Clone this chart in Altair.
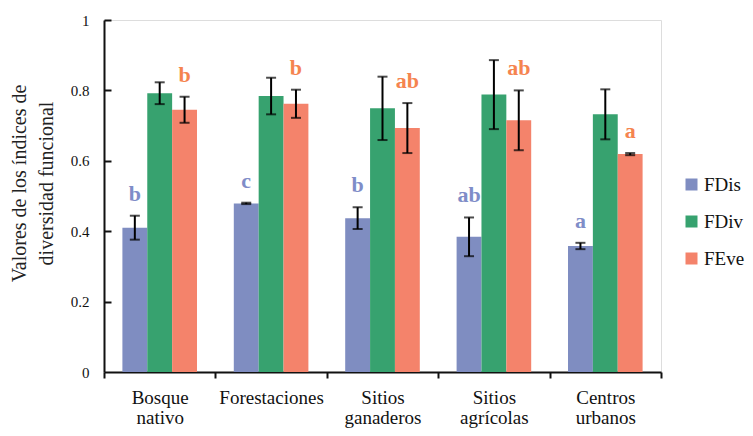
import altair as alt
import pandas as pd

categories = ["Bosque\nnativo", "Forestaciones", "Sitios\nganaderos", "Sitios\nagrícolas", "Centros\nurbanos"]
series = ["FDis", "FDiv", "FEve"]
fdis = [0.410, 0.479, 0.437, 0.384, 0.358]
fdis_err = [0.034, 0.002, 0.031, 0.055, 0.009]
fdiv = [0.792, 0.784, 0.749, 0.788, 0.732]
fdiv_err = [0.031, 0.052, 0.090, 0.098, 0.071]
feve = [0.745, 0.762, 0.693, 0.715, 0.619]
feve_err = [0.037, 0.040, 0.071, 0.085, 0.003]
fdis_letters = ["b", "c", "b", "ab", "a"]
feve_letters = ["b", "b", "ab", "ab", "a"]

bar_colors = ["#7F8DC1", "#37A26F", "#F4836B"]
letter_colors = {"FDis": "#7F8DC8", "FEve": "#F5844F"}
FONT = "Liberation Serif"

rows = []
for name, vals, errs in [("FDis", fdis, fdis_err), ("FDiv", fdiv, fdiv_err), ("FEve", feve, feve_err)]:
    for c, v, e in zip(categories, vals, errs):
        rows.append({"cat": c, "serie": name, "val": v, "lo": v - e, "hi": v + e})
df = pd.DataFrame(rows)

lrows = []
for name, letters, vals, errs in [("FDis", fdis_letters, fdis, fdis_err), ("FEve", feve_letters, feve, feve_err)]:
    for c, l, v, e in zip(categories, letters, vals, errs):
        lrows.append({"cat": c, "serie": name, "txt": l, "hi": v + e, "lcolor": letter_colors[name]})
ldf = pd.DataFrame(lrows)

xenc = alt.X("cat:N", sort=categories, title=None,
             scale=alt.Scale(paddingInner=0, paddingOuter=0),
             axis=alt.Axis(tickBand="extent", labelAngle=0, labelFont=FONT, labelFontSize=19,
                           labelColor="#111", labelExpr="split(datum.label, '\\n')",
                           labelLineHeight=20, labelBaseline="top", labelPadding=10,
                           tickSize=6, tickWidth=2, tickColor="#111", domainColor="#111",
                           domainWidth=2))
xoff = alt.XOffset("serie:N", sort=series, scale=alt.Scale(paddingInner=0, paddingOuter=0.74))
yscale = alt.Scale(domain=[0, 1])

bars = alt.Chart(df).mark_bar().encode(
    x=xenc,
    xOffset=xoff,
    y=alt.Y("val:Q", scale=yscale,
            axis=alt.Axis(values=[0, 0.2, 0.4, 0.6, 0.8, 1], format=".1~f",
                          title=["Valores de los índices de", "diversidad funcional"],
                          titleFont=FONT, titleFontSize=20, titleFontWeight="normal",
                          titleColor="#222", titleLineHeight=27, titleAngle=-90,
                          titleX=-85, titleY=163, titleAlign="center", titleBaseline="middle",
                          labelFont=FONT, labelFontSize=15, labelColor="#111", labelPadding=15,
                          ticks=False, grid=False, domainColor="#111", domainWidth=2)),
    color=alt.Color("serie:N", sort=series,
                    scale=alt.Scale(domain=series, range=bar_colors),
                    legend=alt.Legend(title=None, orient="none", legendX=578, legendY=155,
                                      symbolType="square", symbolSize=144, symbolStrokeWidth=0,
                                      labelFont=FONT, labelFontSize=19, labelColor="#111",
                                      rowPadding=17, labelOffset=3, padding=0)),
)

rules = alt.Chart(df).mark_rule(color="black", strokeWidth=2).encode(
    x=alt.X("cat:N", sort=categories), xOffset=xoff,
    y=alt.Y("lo:Q", scale=yscale,
            axis=alt.Axis(orient="right", offset=-557, labels=False, domain=False, grid=False,
                          title=None, values=[0.2, 0.4, 0.6, 0.8, 1], tickSize=7,
                          tickWidth=2, tickColor="#111")),
    y2="hi:Q",
)
tick_lo = alt.Chart(df).mark_tick(color="black", thickness=2, size=10, orient="horizontal").encode(
    x=alt.X("cat:N", sort=categories), xOffset=xoff,
    y=alt.Y("lo:Q", scale=yscale, axis=None),
)
tick_hi = alt.Chart(df).mark_tick(color="black", thickness=2, size=10, orient="horizontal").encode(
    x=alt.X("cat:N", sort=categories), xOffset=xoff,
    y=alt.Y("hi:Q", scale=yscale, axis=None),
)
letters = alt.Chart(ldf).mark_text(font=FONT, fontSize=22, fontWeight="bold",
                                   baseline="alphabetic", dy=-15).encode(
    x=alt.X("cat:N", sort=categories), xOffset=alt.XOffset("serie:N", sort=series),
    y=alt.Y("hi:Q", scale=yscale, axis=None),
    text="txt:N",
    color=alt.Color("lcolor:N", scale=None),
)

chart = alt.layer(bars, rules, tick_lo, tick_hi, letters).resolve_axis(y="independent").properties(
    width=557, height=352,
    autosize=alt.AutoSizeParams(type="none"),
    padding={"left": 96, "top": 12, "right": 84, "bottom": 56},
).configure_view(stroke=None).configure(background="white")

chart.save("out.html", embed_options={"renderer": "svg", "actions": False})
